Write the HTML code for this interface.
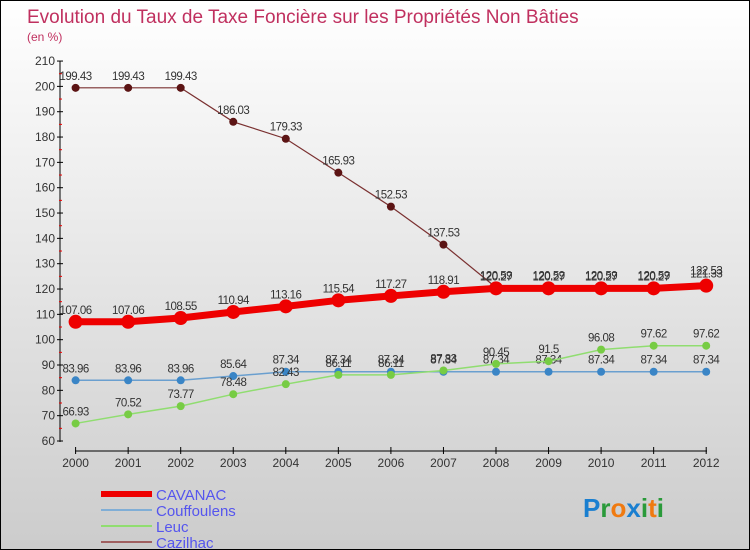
<!DOCTYPE html>
<html><head><meta charset="utf-8"><style>
body{margin:0}
#c{width:748px;height:548px;border:1px solid #000;background:linear-gradient(#fff,#ccc);position:relative;overflow:hidden;font-family:"Liberation Sans",sans-serif}
</style></head><body>
<div id="c">
<svg width="748" height="548" id="s"></svg>
</div>
<script>
const years=["2000","2001","2002","2003","2004","2005","2006","2007","2008","2009","2010","2011","2012"];
const cavanac=[107.06,107.06,108.55,110.94,113.16,115.54,117.27,118.91,120.27,120.27,120.27,120.27,121.33];
const couffoulens=[83.96,83.96,83.96,85.64,87.34,87.34,87.34,87.34,87.34,87.34,87.34,87.34,87.34];
const leuc=[66.93,70.52,73.77,78.48,82.43,86.11,86.11,87.83,90.45,91.5,96.08,97.62,97.62];
const cazilhac=[199.43,199.43,199.43,186.03,179.33,165.93,152.53,137.53,120.59,120.59,120.59,120.59,122.53];
const yTicks=[60,70,80,90,100,110,120,130,140,150,160,170,180,190,200,210];
const NS="http://www.w3.org/2000/svg",s=document.getElementById('s');
const X=i=>74.6+i*52.55, Y=v=>440-(v-60)*2.533;
function el(t,a,p){const e=document.createElementNS(NS,t);for(const k in a)e.setAttribute(k,a[k]);(p||s).appendChild(e);return e;}
function tx(x,y,str,a){const e=el('text',Object.assign({x:x,y:y},a));e.textContent=str;return e;}
let t=tx(26,22,"Evolution du Taux de Taxe Foncière sur les Propriétés Non Bâties",{fill:"#c0305f","font-size":19});

t=tx(26,40,"(en %)",{fill:"#c0305f","font-size":12});

let a=el('line',{x1:59,y1:60,x2:59,y2:441,stroke:"#000"});
a=el('line',{x1:74,y1:450,x2:706,y2:450,stroke:"#000"});
yTicks.forEach(v=>{el('line',{x1:56,y1:Y(v),x2:62,y2:Y(v),stroke:"#000"});
 if(v<210)el('line',{x1:58,y1:Y(v+5),x2:61,y2:Y(v+5),stroke:"#e00"});
 t=tx(54,Y(v)+4,v,{"text-anchor":"end","font-size":12,fill:"#333"});
 });
years.forEach((y,i)=>{el('line',{x1:X(i),y1:446,x2:X(i),y2:453,stroke:"#000"});
 t=tx(X(i),466,y,{"text-anchor":"middle","font-size":12,fill:"#333"});
 });
function series(d,col,w,r,mc,name){
 const g=el('g',{});
 el('polyline',{points:d.map((v,i)=>X(i)+","+Y(v)).join(" "),fill:"none",stroke:col,"stroke-width":w},g);
 d.forEach((v,i)=>{const c=el('circle',{cx:X(i),cy:Y(v),r:r,fill:mc},g);
  
  const l=tx(X(i),Y(v)-8,v,{"text-anchor":"middle","font-size":11.5,fill:"#333","letter-spacing":"-0.5"},g);
  });
}
series(couffoulens,"#6a9fcf",1.5,4,"#3a85c6","couffoulens");
series(leuc,"#90dd70",1.5,4,"#77cc44","leuc");
series(cazilhac,"#7a3030",1.2,4,"#5c1414","cazilhac");
series(cavanac,"#ee0000",7,7,"#ee0000","cavanac");
const leg=[["CAVANAC","#ee0000",6],["Couffoulens","#80aed6",2],["Leuc","#90dd70",2],["Cazilhac","#a06060",2]];
leg.forEach((l,i)=>{const g=el('g',{});
 el('line',{x1:100,x2:151,y1:493+i*16,y2:493+i*16,stroke:l[1],"stroke-width":l[2]},g);
 tx(155,499+i*16,l[0],{"font-size":15,fill:"#5555ee"},g);});
const lg=el('text',{x:582,y:516,"font-size":26,"font-weight":"bold"});
[["P","#1a7fd0"],["r","#2a9a3a"],["o","#f07a10"],["x","#1a7fd0"],["i","#2a9a3a"],["t","#f07a10"],["i","#2a9a3a"]].forEach(c=>{const sp=el('tspan',{fill:c[1]},lg);sp.textContent=c[0];});
</script>
</body></html>
